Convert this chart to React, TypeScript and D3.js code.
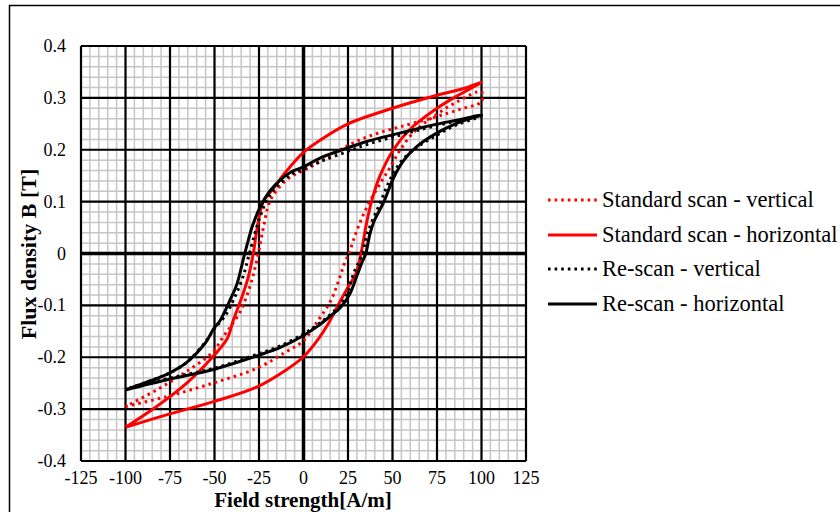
import React, { useEffect, useRef } from 'react';
import * as d3 from 'd3';

// hysteresis loops, points go up the ascending branch then back down the descending one
const stdVertical: [number, number][] = [
  [-100, -0.295], [-77, -0.276], [-51, -0.25], [-26, -0.221], [-10, -0.19], [0, -0.168],
  [8, -0.13], [15, -0.093], [19.6, -0.054], [23.3, -0.016], [25.5, 0], [29, 0.035],
  [33, 0.07], [38, 0.105], [44, 0.14], [49, 0.168], [54, 0.198], [62, 0.234], [73, 0.264],
  [86, 0.292], [100, 0.312],
  [100, 0.293], [88, 0.278], [73, 0.262], [54, 0.244], [40, 0.23], [26, 0.21], [10, 0.178],
  [0, 0.16], [-7, 0.148], [-13, 0.13], [-19, 0.1], [-22.5, 0.05], [-25.4, 0], [-28.5, -0.045],
  [-32, -0.083], [-36, -0.115], [-41, -0.141], [-45, -0.16], [-51, -0.19], [-66, -0.228],
  [-82.5, -0.263], [-100, -0.295],
];

const stdHorizontal: [number, number][] = [
  [-100, -0.335], [-77, -0.311], [-51, -0.286], [-26, -0.257], [-10, -0.225], [0, -0.199],
  [8.3, -0.165], [14, -0.135], [20, -0.096], [25, -0.065], [29.5, -0.038], [32.3, 0],
  [35.5, 0.06], [39, 0.11], [43, 0.15], [50.5, 0.2], [60, 0.24], [75, 0.28], [88, 0.307],
  [100, 0.33],
  [90, 0.318], [75, 0.305], [50, 0.28], [25, 0.25], [10, 0.22], [0, 0.195], [-10, 0.157],
  [-17, 0.125], [-22.6, 0.1], [-26, 0.05], [-28.2, 0], [-31, -0.045], [-34.7, -0.085],
  [-39.4, -0.128], [-43, -0.165], [-52.5, -0.205], [-65.6, -0.25], [-82.5, -0.295], [-100, -0.335],
];

const reVertical: [number, number][] = [
  [-100, -0.262], [-75, -0.24], [-50, -0.221], [-25, -0.193], [-13, -0.178], [0, -0.155],
  [8, -0.137], [15, -0.118], [21, -0.097], [25, -0.072], [28, -0.04], [33, 0], [36, 0.04],
  [43, 0.097], [49, 0.145], [55, 0.178], [63, 0.203], [74.8, 0.228], [86, 0.248], [100, 0.265],
  [73, 0.245], [54, 0.228], [35.5, 0.21], [24.3, 0.196], [9.3, 0.177], [0, 0.163],
  [-7, 0.152], [-13, 0.136], [-19, 0.112], [-24, 0.075], [-30.4, 0], [-34, -0.045],
  [-38.5, -0.083], [-44, -0.12], [-50, -0.145], [-55, -0.17], [-65.6, -0.21], [-75, -0.23],
  [-82.5, -0.241], [-100, -0.262],
];

const reHorizontal: [number, number][] = [
  [-100, -0.263], [-75, -0.242], [-50, -0.223], [-25, -0.196], [-13, -0.181], [0, -0.158],
  [8, -0.14], [15, -0.121], [21, -0.103], [26, -0.078], [30, -0.043], [33, -0.016],
  [35, 0], [37.4, 0.039], [40, 0.065], [44.8, 0.097], [50.5, 0.145], [56, 0.178],
  [63.6, 0.206], [74.8, 0.232], [86, 0.251], [100, 0.267],
  [86, 0.257], [73, 0.248], [54, 0.232], [35.5, 0.216], [24.3, 0.203], [9.3, 0.184],
  [0, 0.167], [-7, 0.157], [-13, 0.142], [-19, 0.12], [-24, 0.092], [-28.5, 0.055], [-33, 0],
  [-37.5, -0.06], [-41.3, -0.09], [-47, -0.13], [-50.5, -0.145], [-55, -0.172],
  [-65.6, -0.21], [-75, -0.23], [-82.5, -0.241], [-100, -0.263],
];

const seriesNames = [
  'Standard scan - vertical',
  'Standard scan - horizontal',
  'Re-scan - vertical',
  'Re-scan - horizontal',
];

const xTicks = [-125, -100, -75, -50, -25, 0, 25, 50, 75, 100, 125];
const yTicks = [0.4, 0.3, 0.2, 0.1, 0, -0.1, -0.2, -0.3, -0.4];

const App = () => {
  const ref = useRef<SVGSVGElement>(null);

  useEffect(() => {
    const svg = d3.select(ref.current);
    svg.selectAll('*').remove();

    const font = "'Liberation Serif', 'Times New Roman', serif";
    const left = 81, right = 526, top = 46, bottom = 461;

    const x = d3.scaleLinear().domain([-125, 125]).range([left, right]);
    const y = d3.scaleLinear().domain([-0.4, 0.4]).range([bottom, top]);

    // outer chart frame
    svg.append('rect')
      .attr('x', 9.5).attr('y', 5.5)
      .attr('width', 840).attr('height', 520)
      .attr('fill', 'white')
      .attr('stroke', 'black')
      .attr('stroke-width', 1.5);

    // minor grid
    const minor = svg.append('g').attr('stroke', '#c6c6c6').attr('stroke-width', 1.5);
    d3.range(-125, 126, 5).forEach(v => {
      minor.append('line')
        .attr('x1', x(v)).attr('x2', x(v)).attr('y1', top).attr('y2', bottom);
    });
    d3.range(-20, 21).map(i => i * 0.02).forEach(v => {
      minor.append('line')
        .attr('x1', left).attr('x2', right).attr('y1', y(v)).attr('y2', y(v));
    });

    // major grid
    const major = svg.append('g').attr('stroke', 'black').attr('stroke-width', 2.2);
    xTicks.forEach(v => {
      major.append('line')
        .attr('x1', x(v)).attr('x2', x(v)).attr('y1', top).attr('y2', bottom)
        .attr('stroke-width', v === 0 ? 3.5 : 2.2);
    });
    yTicks.forEach(v => {
      major.append('line')
        .attr('x1', left).attr('x2', right).attr('y1', y(v)).attr('y2', y(v))
        .attr('stroke-width', v === 0 ? 3.5 : 2.2);
    });

    // tick labels
    svg.append('g')
      .selectAll('text')
      .data(xTicks)
      .join('text')
      .attr('x', d => x(d))
      .attr('y', 484)
      .attr('text-anchor', 'middle')
      .attr('font-family', font)
      .attr('font-size', 18)
      .text(d => String(d));

    svg.append('g')
      .selectAll('text')
      .data(yTicks)
      .join('text')
      .attr('x', 66)
      .attr('y', d => y(d) + 6)
      .attr('text-anchor', 'end')
      .attr('font-family', font)
      .attr('font-size', 18)
      .text(d => String(d));

    // axis titles
    svg.append('text')
      .attr('x', 303)
      .attr('y', 507)
      .attr('text-anchor', 'middle')
      .attr('font-family', font)
      .attr('font-weight', 'bold')
      .attr('font-size', 21)
      .text('Field strength[A/m]');

    svg.append('text')
      .attr('transform', 'translate(36,254) rotate(-90)')
      .attr('text-anchor', 'middle')
      .attr('font-family', font)
      .attr('font-weight', 'bold')
      .attr('font-size', 22)
      .text('Flux density B [T]');

    const line = d3.line<[number, number]>()
      .x(d => x(d[0]))
      .y(d => y(d[1]))
      .curve(d3.curveCatmullRom.alpha(0.5));

    const series = [
      { data: stdVertical, color: '#ff0000', dash: '2.6 4' },
      { data: stdHorizontal, color: '#ff0000', dash: null },
      { data: reVertical, color: '#000000', dash: '2.6 4' },
      { data: reHorizontal, color: '#000000', dash: null },
    ];

    series.forEach(s => {
      svg.append('path')
        .datum(s.data)
        .attr('fill', 'none')
        .attr('stroke', s.color)
        .attr('stroke-width', 3)
        .attr('stroke-dasharray', s.dash)
        .attr('d', line);
    });

    // legend
    const legendY = [200, 235, 269, 304];
    series.forEach((s, i) => {
      svg.append('line')
        .attr('x1', 548).attr('x2', 597)
        .attr('y1', legendY[i]).attr('y2', legendY[i])
        .attr('stroke', s.color)
        .attr('stroke-width', 3)
        .attr('stroke-dasharray', s.dash);
      svg.append('text')
        .attr('x', 602)
        .attr('y', legendY[i] + 7)
        .attr('font-family', font)
        .attr('font-size', 22.5)
        .text(seriesNames[i]);
    });
  }, []);

  return (
    <svg
      ref={ref}
      width={840}
      height={512}
      style={{ position: 'absolute', left: 0, top: 0, background: 'white' }}
    />
  );
};

export default App;
